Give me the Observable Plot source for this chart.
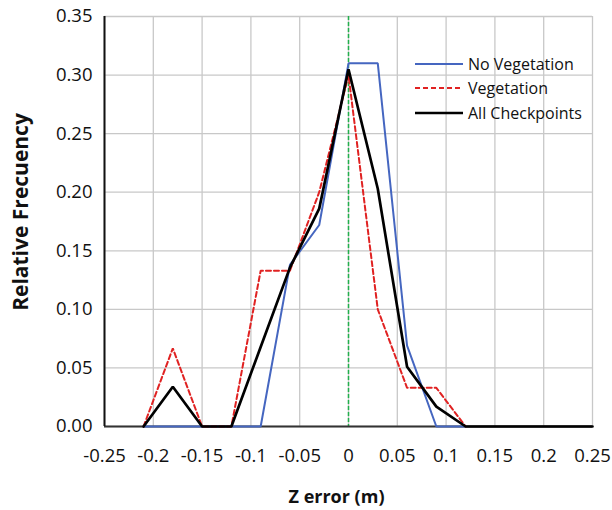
<!DOCTYPE html>
<html><head><meta charset="utf-8">
<script src="https://cdn.jsdelivr.net/npm/d3@7"></script>
<script src="https://cdn.jsdelivr.net/npm/@observablehq/plot@0.6"></script>
<style>
body{margin:0;background:#fff;font-family:"Open Sans",sans-serif;}
#wrap{position:relative;width:612px;height:510px;}
#legend{position:absolute;left:415px;top:51.5px;font-size:16px;color:#111;font-family:"Open Sans",sans-serif;}
.row{display:flex;align-items:center;height:24.5px;white-space:nowrap;}
.row svg{margin-right:5px;display:block}
</style></head><body><div id="wrap"><div id="legend"></div></div>
<script>
const bins      = [-0.21, -0.18, -0.15, -0.12, -0.09, -0.06, -0.03, 0, 0.03, 0.06, 0.09, 0.12, 0.25];
const noVeg     = [0, 0, 0, 0, 0, 0.138, 0.172, 0.310, 0.310, 0.069, 0, 0, null];
const veg       = [0, 0.0667, 0, 0, 0.133, 0.133, 0.200, 0.300, 0.100, 0.033, 0.033, 0, null];
const allPts    = [0, 0.0339, 0, 0, 0.0678, 0.1356, 0.186, 0.305, 0.203, 0.051, 0.017, 0, 0];
const seriesNames = ["No Vegetation", "Vegetation", "All Checkpoints"];
const seriesColors = ["#4566c0", "#e02222", "#000000"];
const seriesDash = [null, "5,3", null];
const seriesWidth = [2, 2, 2.7];
const xTicks = [-0.25, -0.2, -0.15, -0.1, -0.05, 0, 0.05, 0.1, 0.15, 0.2, 0.25];
const yTicks = [0, 0.05, 0.1, 0.15, 0.2, 0.25, 0.3, 0.35];
const xLabel = "Z error (m)";
const yLabel = "Relative Frecuency";

const values = [noVeg, veg, allPts];
const rows = [];
values.forEach((arr, s) => arr.forEach((v, i) => {
  if (v !== null) rows.push({x: bins[i], y: v, s});
}));

const fmtX = d => d === 0 ? "0" : String(+d.toFixed(2));

const lineMarks = values.map((arr, s) =>
  Plot.line(rows.filter(r => r.s === s), {
    x: "x", y: "y", stroke: seriesColors[s], strokeWidth: seriesWidth[s],
    strokeDasharray: seriesDash[s] || undefined, strokeLinejoin: "miter"
  })
);

const chart = Plot.plot({
  width: 612, height: 510,
  marginLeft: 104, marginRight: 20, marginTop: 16, marginBottom: 84,
  style: {fontFamily: "Open Sans", fontSize: "18.5px", color: "#111", background: "white"},
  x: {domain: [xTicks[0], xTicks[xTicks.length - 1]]},
  y: {domain: [yTicks[0], yTicks[yTicks.length - 1]]},
  marks: [
    Plot.gridX(xTicks, {stroke: "#c8c8c8", strokeOpacity: 1, strokeWidth: 1.3}),
    Plot.gridY(yTicks, {stroke: "#c8c8c8", strokeOpacity: 1, strokeWidth: 1.3}),
    Plot.axisX(xTicks, {tickSize: 0, tickPadding: 22, tickFormat: fmtX, label: null, fontSize: 18.5}),
    Plot.axisY(yTicks, {tickSize: 0, tickPadding: 12, tickFormat: d => d.toFixed(2), label: null, fontSize: 18.5}),
    Plot.ruleX([0], {stroke: "#22b04c", strokeDasharray: "4,2", strokeWidth: 1.5}),
    Plot.ruleY([yTicks[0]], {stroke: "#333", strokeWidth: 2}),
    Plot.ruleX([xTicks[0]], {stroke: "#111", strokeWidth: 2}),
    ...lineMarks,
    Plot.text([xLabel], {frameAnchor: "bottom", dy: 76.5, dx: -12, fontWeight: "bold", fontSize: 18}),
    Plot.text([yLabel], {frameAnchor: "left", textAnchor: "middle", rotate: -90, dx: -83, dy: -9.5, fontWeight: "bold", fontSize: 21})
  ]
});
const wrap = document.getElementById("wrap");
wrap.insertBefore(chart, wrap.firstChild);

const legend = document.getElementById("legend");
seriesNames.forEach((name, s) => {
  const row = document.createElement("div");
  row.className = "row";
  row.innerHTML = `<svg width="48" height="6"><line x1="0" x2="48" y1="3" y2="3" stroke="${seriesColors[s]}" stroke-width="${seriesWidth[s]}" ${seriesDash[s] ? `stroke-dasharray="${seriesDash[s]}"` : ""}/></svg><span>${name}</span>`;
  legend.appendChild(row);
});
</script></body></html>
